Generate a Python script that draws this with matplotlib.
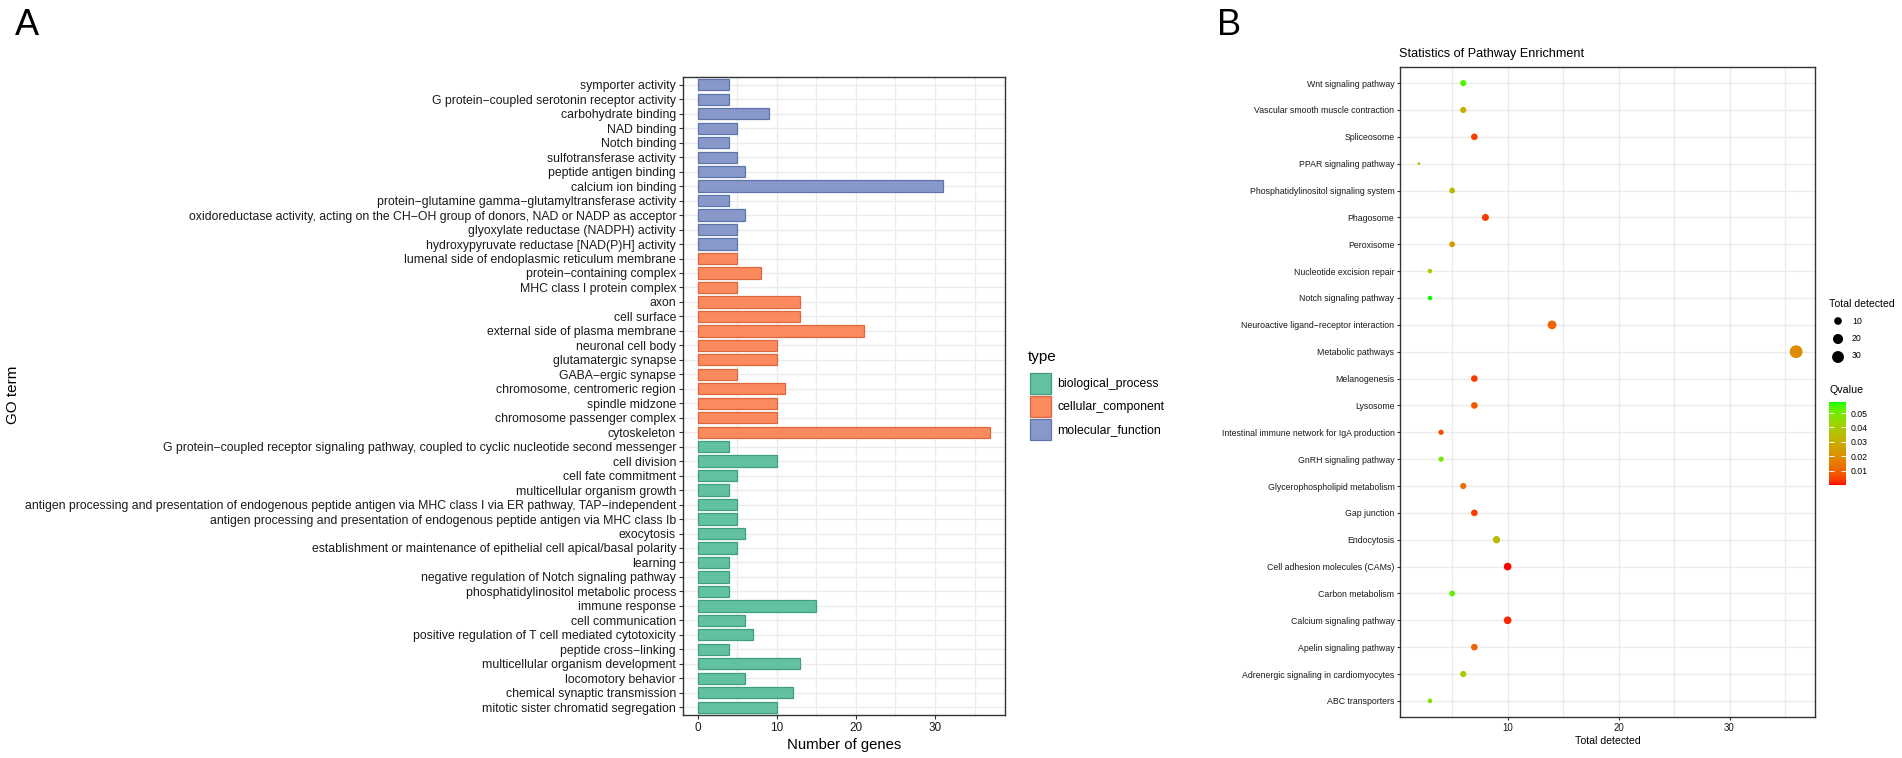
import numpy as np
import matplotlib
matplotlib.use("Agg")
import matplotlib.pyplot as plt
from matplotlib.colors import ListedColormap, Normalize
from matplotlib.patches import Rectangle
from matplotlib.cm import ScalarMappable

plt.rcParams['font.family'] = ['Liberation Sans', 'DejaVu Sans']

# ---------------- data: panel A (GO terms, top to bottom) ----------------
go_terms = [
    "symporter activity",
    "G protein\u2212coupled serotonin receptor activity",
    "carbohydrate binding",
    "NAD binding",
    "Notch binding",
    "sulfotransferase activity",
    "peptide antigen binding",
    "calcium ion binding",
    "protein\u2212glutamine gamma\u2212glutamyltransferase activity",
    "oxidoreductase activity, acting on the CH\u2212OH group of donors, NAD or NADP as acceptor",
    "glyoxylate reductase (NADPH) activity",
    "hydroxypyruvate reductase [NAD(P)H] activity",
    "lumenal side of endoplasmic reticulum membrane",
    "protein\u2212containing complex",
    "MHC class I protein complex",
    "axon",
    "cell surface",
    "external side of plasma membrane",
    "neuronal cell body",
    "glutamatergic synapse",
    "GABA\u2212ergic synapse",
    "chromosome, centromeric region",
    "spindle midzone",
    "chromosome passenger complex",
    "cytoskeleton",
    "G protein\u2212coupled receptor signaling pathway, coupled to cyclic nucleotide second messenger",
    "cell division",
    "cell fate commitment",
    "multicellular organism growth",
    "antigen processing and presentation of endogenous peptide antigen via MHC class I via ER pathway, TAP\u2212independent",
    "antigen processing and presentation of endogenous peptide antigen via MHC class Ib",
    "exocytosis",
    "establishment or maintenance of epithelial cell apical/basal polarity",
    "learning",
    "negative regulation of Notch signaling pathway",
    "phosphatidylinositol metabolic process",
    "immune response",
    "cell communication",
    "positive regulation of T cell mediated cytotoxicity",
    "peptide cross\u2212linking",
    "multicellular organism development",
    "locomotory behavior",
    "chemical synaptic transmission",
    "mitotic sister chromatid segregation",
]
go_counts = [4, 4, 9, 5, 4, 5, 6, 31, 4, 6, 5, 5,
             5, 8, 5, 13, 13, 21, 10, 10, 5, 11, 10, 10, 37,
             4, 10, 5, 4, 5, 5, 6, 5, 4, 4, 4, 15, 6, 7, 4, 13, 6, 12, 10]
go_types = (["molecular_function"] * 12 + ["cellular_component"] * 13
            + ["biological_process"] * 19)
type_names = ["biological_process", "cellular_component", "molecular_function"]
type_fill = {"biological_process": "#62C1A2", "cellular_component": "#FB8A5E",
             "molecular_function": "#8899C9"}
type_edge = {"biological_process": "#3E9E80", "cellular_component": "#DE683C",
             "molecular_function": "#5E74AC"}

# ---------------- data: panel B (KEGG pathways, top to bottom) ----------------
pathways = [
    "Wnt signaling pathway",
    "Vascular smooth muscle contraction",
    "Spliceosome",
    "PPAR signaling pathway",
    "Phosphatidylinositol signaling system",
    "Phagosome",
    "Peroxisome",
    "Nucleotide excision repair",
    "Notch signaling pathway",
    "Neuroactive ligand\u2212receptor interaction",
    "Metabolic pathways",
    "Melanogenesis",
    "Lysosome",
    "Intestinal immune network for IgA production",
    "GnRH signaling pathway",
    "Glycerophospholipid metabolism",
    "Gap junction",
    "Endocytosis",
    "Cell adhesion molecules (CAMs)",
    "Carbon metabolism",
    "Calcium signaling pathway",
    "Apelin signaling pathway",
    "Adrenergic signaling in cardiomyocytes",
    "ABC transporters",
]
total_detected = [6, 6, 7, 2, 5, 8, 5, 3, 3, 14, 36, 7, 7, 4, 4, 6, 7, 9, 10, 5, 10, 7, 6, 3]
qvalues = [0.054, 0.030, 0.005, 0.036, 0.034, 0.004, 0.023, 0.042, 0.0576, 0.010,
           0.020, 0.004, 0.008, 0.006, 0.049, 0.013, 0.004, 0.034, 0.0003, 0.052,
           0.002, 0.010, 0.040, 0.047]
size_breaks = [10, 20, 30]
q_breaks = [0.01, 0.02, 0.03, 0.04, 0.05]

# ---------------- figure ----------------
W, H = 1902, 758
fig = plt.figure(figsize=(W / 100, H / 100), dpi=100)
renderer = fig.canvas.get_renderer()


def fx(px):
    return px / W


def fy(py):
    return 1 - py / H


def fit_size(texts, target_px, base=10.0):
    widths = []
    for s in texts:
        t = fig.text(0, 0, s, fontsize=base)
        widths.append(t.get_window_extent(renderer).width)
        t.remove()
    return base * target_px / max(widths)


GRID = "#EBEBEB"
SPINE = "#333333"

# ---------------- panel A ----------------
axA = fig.add_axes([fx(683), fy(715), (1005 - 683) / W, (715 - 77) / H])
n = len(go_terms)
ypos = np.arange(n)
axA.barh(ypos, go_counts, height=0.78,
         color=[type_fill[t] for t in go_types],
         edgecolor=[type_edge[t] for t in go_types], linewidth=0.9, zorder=3)
axA.set_xlim(-1.85, 38.85)
axA.set_ylim(n - 1 + 0.54, -0.54)
axA.set_xticks([0, 10, 20, 30])
axA.set_xticks([5, 15, 25, 35], minor=True)
axA.set_yticks(ypos)
fsA = fit_size(go_terms, 651)
axA.set_yticklabels(go_terms, fontsize=fsA, color="#1a1a1a")
axA.tick_params(axis='x', labelsize=8.5, length=3, width=0.8, color=SPINE, pad=2, labelcolor="#1a1a1a")
axA.tick_params(axis='y', length=3, width=0.8, color=SPINE, pad=2)
axA.tick_params(which='minor', length=0)
axA.grid(True, which='both', axis='x', color=GRID, lw=1.0, zorder=0)
axA.grid(True, which='major', axis='y', color=GRID, lw=1.0, zorder=0)
axA.set_axisbelow(True)
for sp in axA.spines.values():
    sp.set_color(SPINE)
    sp.set_linewidth(1.0)
axA.set_xlabel("Number of genes", fontsize=10.7, labelpad=3)
fig.text(fx(13), fy(395), "GO term", rotation=90, fontsize=11, ha='center', va='center')

# legend for type
fig.text(fx(1028), fy(357), "type", fontsize=11, ha='left', va='center')
for i, tname in enumerate(type_names):
    top = 373 + i * 23
    fig.add_artist(Rectangle((fx(1030), fy(top + 21)), 21 / W, 21 / H,
                             transform=fig.transFigure, facecolor=type_fill[tname],
                             edgecolor=type_edge[tname], linewidth=0.9))
    fig.text(fx(1057), fy(top + 11), tname, fontsize=8.8, ha='left', va='center')

fig.text(fx(15), fy(35), "A", fontsize=26, ha='left', va='baseline')
fig.text(fx(1217), fy(35), "B", fontsize=26, ha='left', va='baseline')

# ---------------- colormap (ggplot red -> green gradient in Lab) ----------------
M = np.array([[0.4124564, 0.3575761, 0.1804375],
              [0.2126729, 0.7151522, 0.0721750],
              [0.0193339, 0.1191920, 0.9503041]])
WP = np.array([0.95047, 1.0, 1.08883])


def srgb_to_lab(rgb):
    rgb = np.asarray(rgb, float)
    lin = np.where(rgb <= 0.04045, rgb / 12.92, ((rgb + 0.055) / 1.055) ** 2.4)
    t = (lin @ M.T) / WP
    d = 6 / 29
    f = np.where(t > d ** 3, np.cbrt(t), t / (3 * d * d) + 4 / 29)
    return np.stack([116 * f[..., 1] - 16, 500 * (f[..., 0] - f[..., 1]),
                     200 * (f[..., 1] - f[..., 2])], -1)


def lab_to_srgb(lab):
    L, a, b = lab[..., 0], lab[..., 1], lab[..., 2]
    fyv = (L + 16) / 116
    f = np.stack([fyv + a / 500, fyv, fyv - b / 200], -1)
    d = 6 / 29
    t = np.where(f > d, f ** 3, 3 * d * d * (f - 4 / 29))
    lin = np.clip((t * WP) @ np.linalg.inv(M).T, 0, 1)
    return np.clip(np.where(lin <= 0.0031308, 12.92 * lin, 1.055 * lin ** (1 / 2.4) - 0.055), 0, 1)


lab_lo = srgb_to_lab([1.0, 0.0, 0.0])
lab_hi = srgb_to_lab([0.0, 1.0, 0.0])
tt = np.linspace(0, 1, 256)[:, None]
cmap = ListedColormap(lab_to_srgb(lab_lo + (lab_hi - lab_lo) * tt))
norm = Normalize(min(qvalues), max(qvalues))

# ---------------- panel B ----------------
xmin_d, xmax_d = min(total_detected), max(total_detected)


def dot_area(v):
    v = np.asarray(v, float)
    d_px = 2.8 + 10.0 * np.sqrt((v - xmin_d) / (xmax_d - xmin_d))
    return (d_px * 72 / 100) ** 2


axB = fig.add_axes([fx(1400), fy(717), (1815 - 1400) / W, (717 - 67) / H])
m = len(pathways)
yb = np.arange(m)
axB.scatter(total_detected, yb, s=dot_area(total_detected), c=qvalues, cmap=cmap,
            norm=norm, edgecolors='none', zorder=3)
pad = 0.05 * (xmax_d - xmin_d)
axB.set_xlim(xmin_d - pad, xmax_d + pad)
axB.set_ylim(m - 1 + 0.6, -0.6)
axB.set_xticks([10, 20, 30])
axB.set_xticks([5, 15, 25, 35], minor=True)
axB.set_yticks(yb)
fsB = fit_size(pathways, 175)
axB.set_yticklabels(pathways, fontsize=fsB, color="#1a1a1a")
axB.tick_params(axis='x', labelsize=7, length=2.5, width=0.8, color=SPINE, pad=2, labelcolor="#1a1a1a")
axB.tick_params(axis='y', length=2.5, width=0.8, color=SPINE, pad=1.5)
axB.tick_params(which='minor', length=0)
axB.grid(True, which='both', axis='x', color=GRID, lw=1.0, zorder=0)
axB.grid(True, which='major', axis='y', color=GRID, lw=1.0, zorder=0)
axB.set_axisbelow(True)
for sp in axB.spines.values():
    sp.set_color(SPINE)
    sp.set_linewidth(1.0)
axB.set_xlabel("Total detected", fontsize=7.6, labelpad=2)
title = "Statistics of Pathway Enrichment"
fig.text(fx(1399), fy(54), title, fontsize=fit_size([title], 184), ha='left', va='center')

# size legend
fig.text(fx(1829), fy(304), "Total detected", fontsize=7.6, ha='left', va='center')
leg_ax = fig.add_axes([fx(1826), fy(366), 24 / W, 54 / H])
leg_ax.scatter([0] * len(size_breaks), np.arange(len(size_breaks)), s=dot_area(size_breaks),
               color='black', edgecolors='none')
leg_ax.set_xlim(-1, 1)
leg_ax.set_ylim(len(size_breaks) - 0.5, -0.5)
leg_ax.axis('off')
for i, v in enumerate(size_breaks):
    fig.text(fx(1852), fy(322 + i * 17), str(v), fontsize=6.3, ha='left', va='center')

# colour bar
fig.text(fx(1829), fy(390), "Qvalue", fontsize=7.7, ha='left', va='center')
cax = fig.add_axes([fx(1829), fy(485), 17 / W, (485 - 402) / H])
cb = fig.colorbar(ScalarMappable(norm=norm, cmap=cmap), cax=cax, ticks=q_breaks)
cb.outline.set_visible(False)
cb.ax.set_yticklabels([f"{q:.2f}" for q in q_breaks])
cax.tick_params(axis='y', which='both', direction='in', color='white', length=3.5, width=0.7,
                left=True, right=True, labelleft=False, labelright=True, labelsize=6.3, pad=3)
cax.minorticks_off()

fig.savefig("out.png", dpi=100)
